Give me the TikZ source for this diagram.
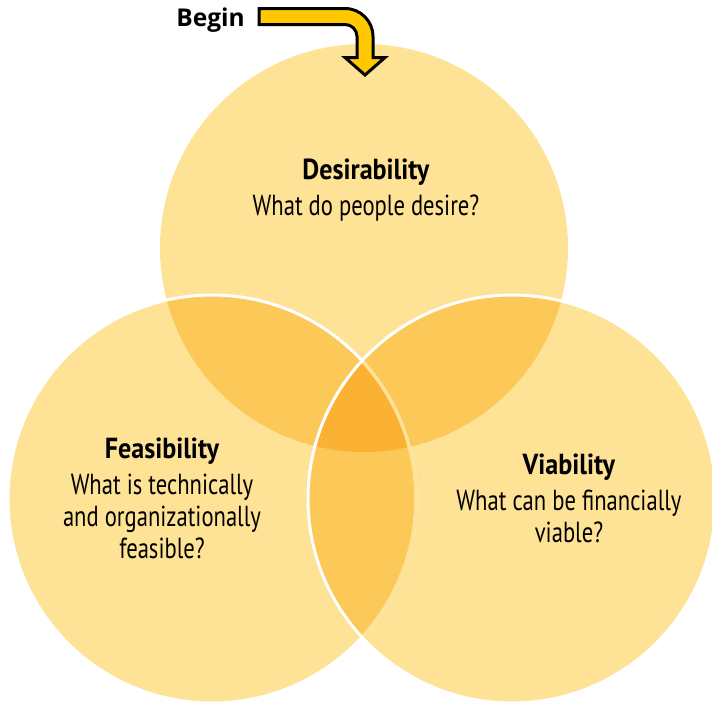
\documentclass[tikz,border=0pt]{standalone}
\usepackage{fontspec}
\setmainfont{PT Sans}[FakeStretch=0.78, BoldFeatures={FakeStretch=0.9}]
\newfontfamily\beginfont{Open Sans}

\definecolor{venn}{HTML}{FEE296}
\definecolor{venntwo}{HTML}{FCC858}
\definecolor{vennthree}{HTML}{FAB134}
\definecolor{gold}{HTML}{FFC800}

\newcommand{\cDes}{(364,-248) circle (204)}
\newcommand{\cFea}{(212,-499) circle (204)}
\newcommand{\cVia}{(512,-499) circle (204)}

\tikzset{
    lbl/.style={align=center, inner sep=0pt, anchor=north,
        font=\fontsize{29}{32}\selectfont},
    rim/.style={draw=white, line width=3pt},
}

\begin{document}
\begin{tikzpicture}[x=1pt,y=1pt]
    \useasboundingbox (0,0) rectangle (712,-702);

    % the three sets
    \fill[venn] \cDes;
    \fill[venn] \cFea;
    \fill[venn] \cVia;

    % overlaps
    \begin{scope}
        \clip \cFea;
        \fill[venntwo] \cVia;
    \end{scope}
    \begin{scope}
        \clip \cDes;
        \fill[venntwo] \cFea;
        \fill[venntwo] \cVia;
        \clip \cFea;
        \fill[vennthree] \cVia;
    \end{scope}

    % white rims
    \draw[rim] \cFea;
    \begin{scope}
        \clip \cVia;
        \draw[rim, draw=venn] \cFea;
    \end{scope}
    \draw[rim] \cVia;

    % start arrow
    \node[font=\beginfont\fontsize{24.5}{30}\selectfont\bfseries, anchor=base east, inner sep=0pt]
        (begin) at (245,-26) {Begin};
    \draw[line width=3pt, fill=gold, line join=miter]
        (259,-8.5) -- (345,-8.5) arc[start angle=90, end angle=0, radius=28]
        -- (373,-57.5) -- (385,-57.5) -- (365,-75) -- (345,-57.5) -- (357,-57.5)
        -- (357,-36.5) arc[start angle=0, end angle=90, radius=12]
        -- (259,-24.5) -- cycle;

    % labels
    \node[lbl] (desir) at (366,-158.5) {\textbf{Desirability}\\[4pt]What do people desire?};
    \node[lbl] (feas) at (162,-437.5) {\textbf{Feasibility}\\[4pt]What is technically\\and organizationally\\feasible?};
    \node[lbl] (viab) at (569,-453.5) {\textbf{Viability}\\[4pt]What can be financially\\viable?};
\end{tikzpicture}
\end{document}
